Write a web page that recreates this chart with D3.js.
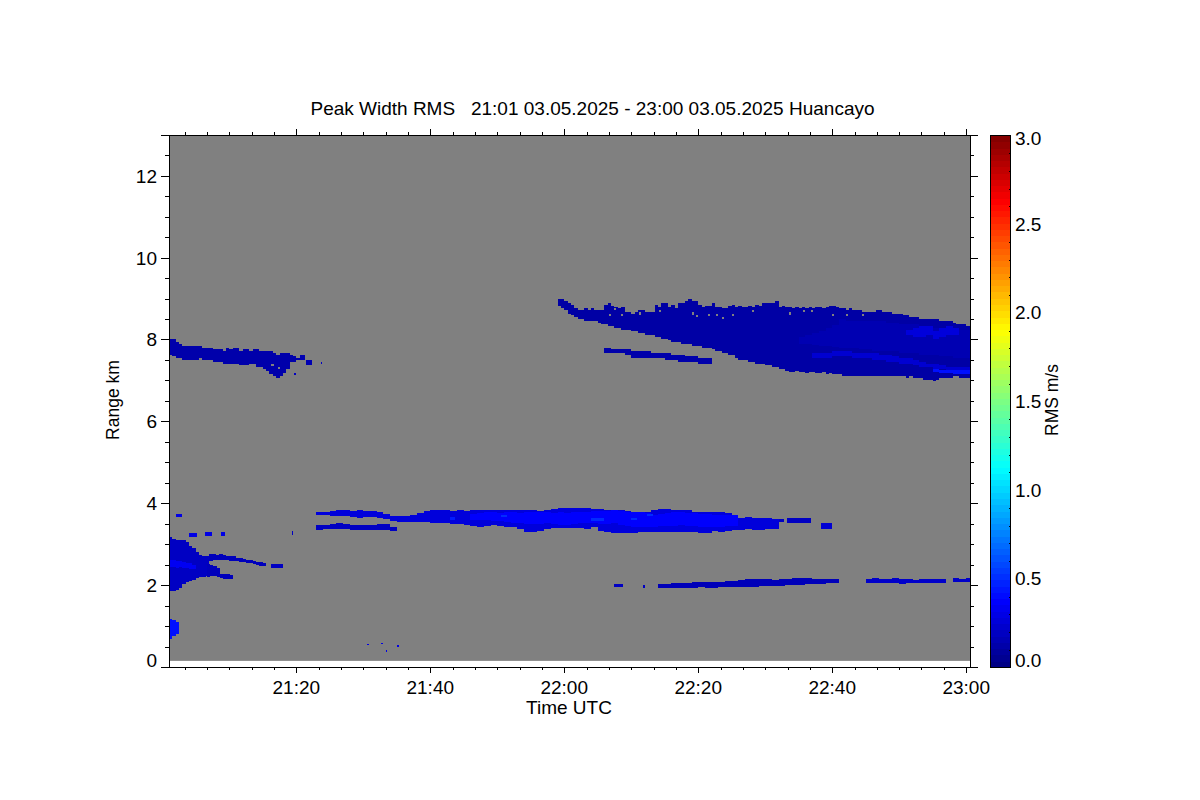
<!DOCTYPE html>
<html>
<head>
<meta charset="utf-8">
<script src="https://cdn.jsdelivr.net/npm/d3@7"></script>
<style>
  html, body { margin: 0; background: #fff; }
  svg { display: block; }
  text { font-family: "Liberation Sans", sans-serif; font-size: 19px; fill: #000; white-space: pre; }
  text.side { font-size: 17.5px; }
  .axis path, .axis line { stroke: #000; stroke-width: 1; shape-rendering: crispEdges; }
  .cell { shape-rendering: crispEdges; }
</style>
</head>
<body>
<svg id="chart" width="1200" height="800"></svg>
<script>
// axis values, time is minutes after 21:00
const timeMajor = [20, 40, 60, 80, 100, 120];
const timeLabels = ["21:20", "21:40", "22:00", "22:20", "22:40", "23:00"];
const timeMinor = [3.33, 6.67, 10, 13.33, 16.67, 23.33, 26.67, 30, 33.33, 36.67, 43.33, 46.67, 50, 53.33, 56.67,
  63.33, 66.67, 70, 73.33, 76.67, 83.33, 86.67, 90, 93.33, 96.67, 103.33, 106.67, 110, 113.33, 116.67];
const rangeMajor = [0, 2, 4, 6, 8, 10, 12];
const rangeMinor = [0.5, 1, 1.5, 2.5, 3, 3.5, 4.5, 5, 5.5, 6.5, 7, 7.5, 8.5, 9, 9.5, 10.5, 11, 11.5, 12.5];
const rmsMajor = [0, 0.5, 1, 1.5, 2, 2.5, 3];
const rmsMinor = [0.1, 0.2, 0.3, 0.4, 0.6, 0.7, 0.8, 0.9, 1.1, 1.2, 1.3, 1.4, 1.6, 1.7, 1.8, 1.9, 2.1, 2.2, 2.3, 2.4, 2.6, 2.7, 2.8, 2.9];
const rmsStops = [0, 0.375, 1.125, 1.9, 2.625, 3];
const rmsColors = ["#00007f", "#0000ff", "#00ffff", "#ffff00", "#ff0000", "#7f0000"];

// echo edges, range km per time column
const cirrusTop = [8.0,8.0,7.95,7.88,7.83,7.85,7.83,7.85,7.85,7.83,7.80,7.80,7.78,7.76,7.76,7.76,7.73,7.78,7.76,7.78,7.78,7.73,7.76,7.76,7.73,7.76,7.76,7.73,7.73,7.71,7.71,7.68,7.63,7.66,7.66,7.66,7.63,7.59,7.56];
const cirrusBottom = [7.61,7.59,7.56,7.54,7.51,7.49,7.49,7.51,7.51,7.54,7.51,7.49,7.49,7.46,7.44,7.44,7.41,7.41,7.39,7.39,7.39,7.37,7.37,7.37,7.39,7.41,7.34,7.32,7.27,7.22,7.15,7.10,7.07,7.12,7.17,7.27,7.44,7.46,7.49];

const bigTop = [8.98,8.98,8.95,8.90,8.85,8.78,8.73,8.73,8.76,8.73,8.76,8.73,8.71,8.71,8.85,8.88,8.83,8.80,8.76,8.80,8.68,8.66,8.63,8.68,8.73,8.73,8.66,8.68,8.68,8.85,8.80,8.88,8.88,8.80,8.85,8.78,8.88,8.90,8.93,8.98,8.95,8.93,8.85,8.80,8.83,8.83,8.88,8.80,8.80,8.76,8.78,8.83,8.85,8.80,8.83,8.80,8.80,8.83,8.80,8.85,8.83,8.88,8.88,8.90,8.90,8.93,8.80,8.83,8.80,8.80,8.78,8.80,8.78,8.80,8.78,8.80,8.78,8.80,8.80,8.78,8.80,8.83,8.83,8.80,8.78,8.76,8.73,8.76,8.73,8.73,8.71,8.66,8.66,8.66,8.68,8.73,8.71,8.68,8.68,8.66,8.63,8.63,8.63,8.61,8.61,8.56,8.54,8.54,8.51,8.51,8.51,8.51,8.49,8.49,8.46,8.46,8.46,8.44,8.41,8.39,8.37,8.37,8.34,8.34];
const bigBottom = [8.83,8.78,8.71,8.63,8.59,8.56,8.51,8.49,8.46,8.46,8.44,8.44,8.41,8.39,8.37,8.34,8.32,8.29,8.27,8.24,8.22,8.22,8.20,8.20,8.17,8.15,8.12,8.12,8.10,8.07,8.05,8.02,8.00,7.98,7.95,7.95,7.93,7.90,7.90,7.88,7.85,7.85,7.83,7.80,7.80,7.78,7.76,7.73,7.71,7.68,7.66,7.63,7.61,7.56,7.51,7.49,7.49,7.46,7.44,7.41,7.41,7.39,7.37,7.37,7.34,7.32,7.29,7.29,7.22,7.20,7.20,7.22,7.20,7.20,7.17,7.20,7.20,7.17,7.17,7.20,7.15,7.17,7.15,7.15,7.15,7.12,7.12,7.12,7.10,7.12,7.10,7.12,7.10,7.10,7.10,7.12,7.10,7.10,7.10,7.12,7.10,7.12,7.10,7.10,7.07,7.10,7.07,7.07,7.05,7.02,7.00,7.00,6.98,7.02,7.07,7.05,7.07,7.07,7.10,7.10,7.07,7.07,7.07,7.07];
const bigMidTop = [8.05,8.10,8.15,8.20,8.28,8.35,8.49,8.46,8.46,8.44,8.46,8.46,8.44,8.41,8.41,8.39,8.37,8.37,8.34,8.32,8.29,8.29,8.27,8.27,8.24,8.22];
const bigMidBottom = [7.90,7.88,7.86,7.84,7.83,7.82,7.80,7.80,7.78,7.76,7.76,7.73,7.73,7.71,7.71,7.68,7.68,7.66,7.63,7.63,7.61,7.59,7.59,7.56,7.54,7.54];
const streakTop = [7.66,7.68,7.68,7.71,7.71,7.71,7.68,7.68,7.66,7.66,7.63,7.61,7.59,7.56,7.54,7.49,7.44,7.41,7.39,7.37,7.34,7.32,7.32,7.32];
const streakBottom = [7.56,7.56,7.56,7.59,7.59,7.59,7.56,7.54,7.54,7.51,7.49,7.46,7.44,7.41,7.39,7.37,7.34,7.32,7.29,7.27,7.20,7.17,7.15,7.15];
const streakEndTop = [7.27,7.26,7.25,7.25,7.26,7.26];
const streakEndBottom = [7.20,7.19,7.17,7.16,7.16,7.16];
const patchTop = [8.22,8.29,8.34,8.32,8.20,8.27,8.32,8.29];
const patchBottom = [8.10,8.05,8.07,8.10,8.02,8.07,8.12,8.12];
const thinTop = [7.78,7.76,7.76,7.76,7.73,7.71,7.71,7.68,7.68,7.66,7.63,7.61,7.59,7.59,7.56,7.54];
const thinBottom = [7.68,7.66,7.66,7.63,7.56,7.56,7.56,7.54,7.54,7.51,7.49,7.46,7.44,7.44,7.41,7.41];

const midTop = [3.78,3.78,3.80,3.83,3.83,3.80,3.83,3.80,3.80,3.78,3.73,3.68,3.68,3.68,3.71,3.76,3.80,3.83,3.83,3.83,3.80,3.83,3.80,3.83,3.83,3.83,3.83,3.83,3.83,3.83,3.83,3.83,3.83,3.80,3.83,3.85,3.88,3.88,3.88,3.88,3.88,3.85,3.85,3.83,3.83,3.83,3.80,3.78,3.78,3.78,3.83,3.85,3.85,3.83,3.83,3.83,3.78,3.78,3.78,3.78,3.78,3.76,3.66,3.63,3.66,3.63,3.63,3.63,3.61];
const midBottom = [3.71,3.71,3.68,3.68,3.68,3.66,3.63,3.66,3.66,3.63,3.61,3.56,3.54,3.54,3.54,3.54,3.54,3.51,3.51,3.51,3.49,3.49,3.46,3.44,3.41,3.44,3.46,3.44,3.41,3.41,3.37,3.29,3.29,3.32,3.37,3.39,3.39,3.39,3.39,3.39,3.37,3.41,3.32,3.29,3.27,3.27,3.27,3.27,3.29,3.29,3.29,3.29,3.29,3.29,3.29,3.29,3.29,3.27,3.27,3.32,3.29,3.32,3.34,3.34,3.37,3.34,3.34,3.37,3.37];
const midCoreTop = [3.73,3.76,3.78,3.78,3.76,3.78,3.78,3.76,3.78,3.78,3.78,3.78,3.76,3.78,3.76,3.78,3.78,3.78,3.80,3.80,3.80,3.83,3.80,3.78,3.78,3.78,3.76,3.71,3.73,3.76,3.78,3.78,3.76,3.76,3.73,3.73,3.71,3.71,3.71,3.71];
const midCoreBottom = [3.59,3.59,3.59,3.56,3.56,3.54,3.51,3.51,3.49,3.49,3.49,3.51,3.49,3.46,3.46,3.49,3.51,3.51,3.51,3.49,3.49,3.51,3.46,3.44,3.41,3.41,3.41,3.41,3.44,3.44,3.44,3.46,3.44,3.44,3.41,3.41,3.41,3.41,3.44,3.44];
const lowerTop = [3.46,3.46,3.49,3.51,3.49,3.46,3.46,3.46,3.46,3.49,3.49,3.41];
const lowerBottom = [3.34,3.37,3.37,3.37,3.37,3.34,3.34,3.34,3.34,3.34,3.34,3.32];

const nearTop = [2.02,2.02,2.05,2.05,2.05,2.07,2.07,2.07,2.07,2.07,2.10,2.10,2.12,2.15,2.15,2.15,2.15,2.12,2.15,2.15,2.17,2.17,2.17,2.15,2.15,2.15,2.15];
const nearBottom = [1.93,1.93,1.93,1.93,1.93,1.93,1.95,1.93,1.93,1.95,1.95,1.95,1.95,1.95,1.95,1.98,1.98,1.98,1.98,2.00,2.00,2.00,2.02,2.02,2.02,2.05,2.05];
const farTop = [2.15,2.17,2.15,2.15,2.17,2.15,2.15,2.12,2.15,2.15,2.15,2.15];
const farBottom = [2.05,2.05,2.05,2.05,2.05,2.02,2.05,2.05,2.05,2.05,2.05,2.05];
const edgeTop = [2.17,2.15,2.17];
const edgeBottom = [2.07,2.07,2.07];

const lowTop = [3.17,3.12,3.10,3.10,3.10,3.05,2.95,2.90,2.80,2.73,2.71,2.71];
const lowBottom = [1.85,1.85,1.88,1.93,2.02,2.07,2.10,2.12,2.17,2.20,2.20,2.22];
const lowCoreTop = [2.62,2.62,2.60,2.60,2.57,2.55,2.53,2.50];
const lowCoreBottom = [2.45,2.45,2.43,2.45,2.43,2.42,2.40,2.40];
const fingerTop = [2.76,2.76,2.73,2.76,2.73,2.71,2.71,2.71,2.66,2.66,2.63,2.61,2.61,2.59,2.57,2.56,2.53];
const fingerBottom = [2.59,2.61,2.61,2.61,2.61,2.61,2.59,2.59,2.59,2.56,2.56,2.53,2.53,2.51,2.49,2.46,2.46];
const hookTop = [2.51,2.49,2.46,2.41,2.27,2.27,2.27,2.24];
const hookBottom = [2.20,2.22,2.22,2.20,2.17,2.15,2.15,2.15];
const bottomBlobTop = [1.17,1.14,1.10];
const bottomBlobBottom = [0.68,0.76,0.80];

// isolated bits: start, end, lower km, upper km
const flecks = [
  [20.5, 21.3, 7.51, 7.61], [21.5, 22.3, 7.37, 7.51], [23.7, 23.9, 7.40, 7.44], [19.6, 19.9, 7.13, 7.17],
  [92.1, 92.8, 3.54, 3.61], [93.3, 96.9, 3.51, 3.63], [98.4, 100, 3.37, 3.51],
  [67.5, 68.7, 1.95, 2.02], [71.8, 72, 1.93, 2.0],
  [2, 3, 3.66, 3.73], [4.05, 5.25, 3.17, 3.27], [6.3, 7.35, 3.2, 3.29], [8.8, 9.3, 3.2, 3.29],
  [19.4, 19.55, 3.22, 3.32], [16.3, 18, 2.41, 2.51],
  [30.6, 30.9, 0.54, 0.57], [32.7, 32.9, 0.56, 0.59], [33.4, 33.6, 0.37, 0.41], [35.1, 35.3, 0.49, 0.53],
  [64, 66, 3.56, 3.63], [72.3, 73.2, 3.68, 3.73], [50.5, 51.4, 3.66, 3.72], [43, 43.7, 3.60, 3.66], [70, 70.8, 3.58, 3.63]
];
const fleckRms = [0.15, 0.15, 0.2, 0.2, 0.2, 0.2, 0.25, 0.2, 0.2, 0.3, 0.3, 0.3, 0.3, 0.2, 0.2, 0.3, 0.3, 0.3, 0.3, 0.5, 0.5, 0.5, 0.45, 0.5];
// gaps near the top of the big echo: time, km
const holes = [[60.3, 8.71], [66.7, 8.63], [67.5, 8.76], [68.5, 8.63], [71.2, 8.66], [72.7, 8.71], [74.2, 8.73], [79, 8.66], [79.7, 8.59], [81.4, 8.63], [82.7, 8.63], [83.6, 8.54], [85, 8.63], [88, 8.71], [93.6, 8.66], [95.6, 8.71], [96.9, 8.71], [99.9, 8.63], [102.1, 8.63], [104.4, 8.63], [16.3, 7.41], [17.2, 7.32]];

const plotLeft = 169, plotRight = 970, plotTop = 135, plotBottom = 667;
const barLeft = 990.5, barRight = 1010.5;

const x = d3.scaleLinear().domain([1, 120.57]).range([plotLeft, plotRight]);
const y = d3.scaleLinear().domain([0, 13]).range([plotBottom, plotTop - 0.2]);
const barY = d3.scaleLinear().domain([0, 3]).range([plotBottom + 0.5, plotTop + 0.5]);
const color = d3.scaleLinear().domain(rmsStops).range(rmsColors);

const svg = d3.select("#chart");
svg.append("defs").append("clipPath").attr("id", "plot")
  .append("rect").attr("x", plotLeft).attr("y", plotTop).attr("width", plotRight - plotLeft).attr("height", plotBottom - plotTop);

// no-data gray, the lowest gates are not measured
svg.append("rect")
  .attr("x", plotLeft).attr("width", plotRight - plotLeft)
  .attr("y", plotTop).attr("height", y(0.15) - plotTop)
  .attr("fill", "#808080");

const plot = svg.append("g").attr("clip-path", "url(#plot)");

// t0 and step in minutes, rms in m/s
const layers = [
  {t0: 1, dt: 0.5, hi: cirrusTop, lo: cirrusBottom, rms: 0.13},
  {t0: 59, dt: 0.5, hi: bigTop, lo: bigBottom, rms: 0.11},
  {t0: 95, dt: 1, hi: bigMidTop, lo: bigMidBottom, rms: 0.15},
  {t0: 97, dt: 1, hi: streakTop, lo: streakBottom, rms: 0.24},
  {t0: 115, dt: 1, hi: streakEndTop, lo: streakEndBottom, rms: 0.42},
  {t0: 111, dt: 1, hi: patchTop, lo: patchBottom, rms: 0.27},
  {t0: 66, dt: 1, hi: thinTop, lo: thinBottom, rms: 0.13},
  {t0: 23, dt: 1, hi: midTop, lo: midBottom, rms: 0.27},
  {t0: 46, dt: 1, hi: midCoreTop, lo: midCoreBottom, rms: 0.37},
  {t0: 23, dt: 1, hi: lowerTop, lo: lowerBottom, rms: 0.2},
  {t0: 74, dt: 1, hi: nearTop, lo: nearBottom, rms: 0.17},
  {t0: 105, dt: 1, hi: farTop, lo: farBottom, rms: 0.22},
  {t0: 118, dt: 1, hi: edgeTop, lo: edgeBottom, rms: 0.22},
  {t0: 1, dt: 0.5, hi: lowTop, lo: lowBottom, rms: 0.2},
  {t0: 1, dt: 0.5, hi: lowCoreTop, lo: lowCoreBottom, rms: 0.34},
  {t0: 7, dt: 0.5, hi: fingerTop, lo: fingerBottom, rms: 0.18},
  {t0: 6.6, dt: 0.5, hi: hookTop, lo: hookBottom, rms: 0.18},
  {t0: 1, dt: 0.5, hi: bottomBlobTop, lo: bottomBlobBottom, rms: 0.42}
];

layers.forEach(layer => {
  plot.append("g").selectAll("rect")
    .data(layer.hi.map((hi, i) => ({t: layer.t0 + i * layer.dt, hi, lo: layer.lo[i]})))
    .join("rect")
    .attr("class", "cell")
    .attr("x", d => x(d.t))
    .attr("width", d => x(d.t + layer.dt) - x(d.t))
    .attr("y", d => y(d.hi))
    .attr("height", d => y(d.lo) - y(d.hi))
    .attr("fill", color(layer.rms));
});

plot.append("g").selectAll("rect")
  .data(flecks)
  .join("rect")
  .attr("class", "cell")
  .attr("x", d => x(d[0]))
  .attr("width", d => x(d[1]) - x(d[0]))
  .attr("y", d => y(d[3]))
  .attr("height", d => y(d[2]) - y(d[3]))
  .attr("fill", (d, i) => color(fleckRms[i]));

plot.append("g").selectAll("rect")
  .data(holes)
  .join("rect")
  .attr("class", "cell")
  .attr("x", d => x(d[0]))
  .attr("width", d => x(d[0] + 0.3) - x(d[0]))
  .attr("y", d => y(d[1]))
  .attr("height", d => y(d[1] - 0.05) - y(d[1]))
  .attr("fill", "#808080");

// frame ticks, the long ones are majors
function frameAxis(axis, pos, major, minor, size) {
  const g = svg.append("g").attr("class", "axis").attr("transform", pos);
  g.call(axis.tickValues(major).tickSize(size).tickSizeOuter(0).tickFormat(""));
  const m = svg.append("g").attr("class", "axis").attr("transform", pos);
  m.call(axis.tickValues(minor).tickSize(size / 2).tickSizeOuter(0).tickFormat(""));
  m.select(".domain").remove();
}
frameAxis(d3.axisBottom(x), `translate(0,${plotBottom})`, timeMajor, timeMinor, 6);
frameAxis(d3.axisTop(x), `translate(0,${plotTop})`, timeMajor, timeMinor, 6);
frameAxis(d3.axisLeft(y), `translate(${plotLeft},0)`, rangeMajor, rangeMinor, 8);
frameAxis(d3.axisRight(y), `translate(${plotRight},0)`, rangeMajor, rangeMinor, 8);

// the frame corners run out to the tick ends
const corners = svg.append("g").attr("class", "axis");
[plotTop + 0.5, plotBottom + 0.5].forEach(cy => {
  corners.append("line").attr("x1", plotLeft - 8).attr("x2", plotLeft).attr("y1", cy).attr("y2", cy);
  corners.append("line").attr("x1", plotRight).attr("x2", plotRight + 8).attr("y1", cy).attr("y2", cy);
});

// tick labels
svg.append("g").selectAll("text")
  .data(timeMajor)
  .join("text")
  .attr("x", d => x(d))
  .attr("y", 694)
  .attr("text-anchor", "middle")
  .text((d, i) => timeLabels[i]);

svg.append("g").selectAll("text")
  .data(rangeMajor)
  .join("text")
  .attr("x", 157)
  .attr("y", d => d === 0 ? 667 : y(d) + 7)
  .attr("text-anchor", "end")
  .text(d => d);

svg.append("text").attr("x", 569).attr("y", 714).attr("text-anchor", "middle").text("Time UTC");
svg.append("text").attr("class", "side").attr("transform", "translate(119,400) rotate(-90)").attr("text-anchor", "middle").text("Range km");
svg.append("text").attr("x", 592.5).attr("y", 115).attr("text-anchor", "middle")
  .text("Peak Width RMS   21:01 03.05.2025 - 23:00 03.05.2025 Huancayo");

// colour bar
const bands = d3.range(0, 3, 3 / 85);
svg.append("g").selectAll("rect")
  .data(bands)
  .join("rect")
  .attr("class", "cell")
  .attr("x", barLeft).attr("width", barRight - barLeft)
  .attr("y", d => barY(d + 3 / 85))
  .attr("height", d => barY(d) - barY(d + 3 / 85) + 0.5)
  .attr("fill", d => color(d + 1.5 / 85));
svg.append("rect")
  .attr("x", barLeft).attr("y", plotTop + 0.5)
  .attr("width", barRight - barLeft).attr("height", plotBottom - plotTop)
  .attr("fill", "none").attr("stroke", "#000").attr("shape-rendering", "crispEdges");

const barAxis = svg.append("g").attr("class", "axis").attr("transform", `translate(${barRight},0)`);
barAxis.call(d3.axisRight(barY).tickValues(rmsMinor).tickSize(-2).tickSizeOuter(0).tickFormat(""));
barAxis.select(".domain").remove();

svg.append("g").selectAll("text")
  .data(rmsMajor)
  .join("text")
  .attr("x", 1015)
  .attr("y", d => d === 0 ? 667 : d === 3 ? 145 : barY(d) + 6.5)
  .text(d => d.toFixed(1));

svg.append("text").attr("class", "side").attr("transform", "translate(1058,400) rotate(-90)").attr("text-anchor", "middle").text("RMS m/s");
</script>
</body>
</html>
